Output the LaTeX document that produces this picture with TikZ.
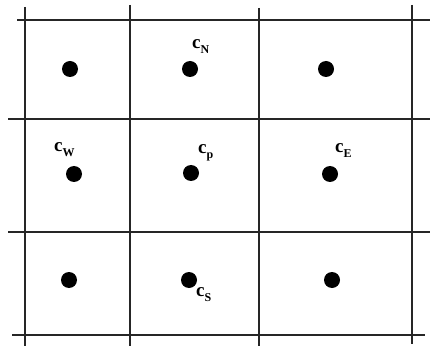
\documentclass[tikz,border=0pt]{standalone}
\usepackage{fontspec}
\setmainfont{Liberation Serif}
\newcommand{\cellsub}[1]{c\raisebox{-5pt}{\fontsize{12}{12}\selectfont #1}}
\tikzset{
  gridline/.style={line width=1.8pt, draw=black!85},
  pt/.style={circle, fill=black, inner sep=0pt, minimum size=16pt},
  lab/.style={inner sep=0pt, font=\fontsize{19}{19}\selectfont\bfseries},
}
\begin{document}
\begin{tikzpicture}[x=1pt,y=-1pt]
\useasboundingbox (0,0) rectangle (430,347);
\fill[white] (0,0) rectangle (430,347);
% horizontal lines
\draw[gridline] (17,20) -- (430,20);
\draw[gridline] (8,119) -- (430,119);
\draw[gridline] (8,232) -- (430,232);
\draw[gridline] (12,335) -- (425,335);
% vertical lines
\draw[gridline] (25,7) -- (25,346);
\draw[gridline] (130,5) -- (130,346);
\draw[gridline] (259,8) -- (259,346);
\draw[gridline] (412,5) -- (412,344);
% dots
\node[pt] (nw) at (70,69) {};
\node[pt] (n)  at (190,69) {};
\node[pt] (ne) at (326,69) {};
\node[pt] (w)  at (74,174) {};
\node[pt] (p)  at (191,173) {};
\node[pt] (e)  at (330,174) {};
\node[pt] (sw) at (69,280) {};
\node[pt] (s)  at (189,280) {};
\node[pt] (se) at (332,280) {};
% labels
\node[lab, anchor=west] (lN) at (192,47) {\cellsub{N}};
\node[lab, anchor=west] (lW) at (54,150) {\cellsub{W}};
\node[lab, anchor=west] (lP) at (198,153) {\cellsub{p}};
\node[lab, anchor=west] (lE) at (335,151) {\cellsub{E}};
\node[lab, anchor=west] (lS) at (196,295) {\cellsub{S}};
\end{tikzpicture}
\end{document}
